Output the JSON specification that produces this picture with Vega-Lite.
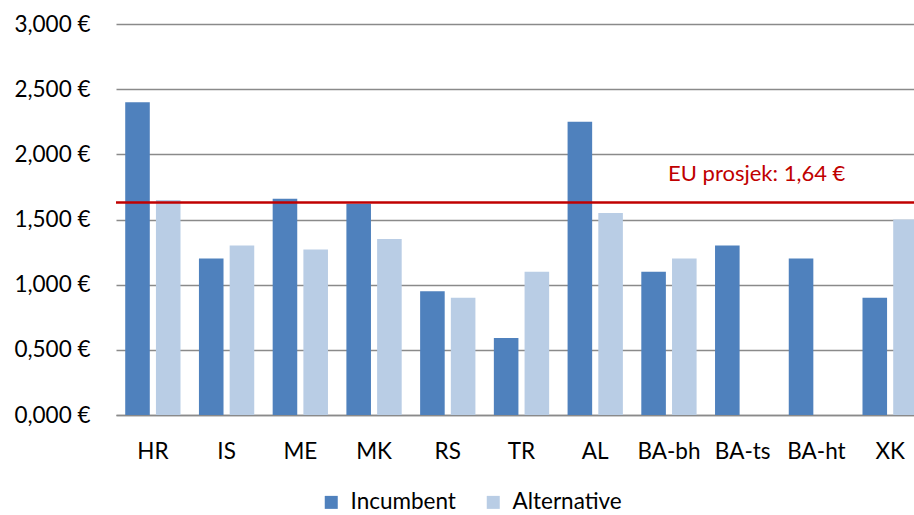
{
  "$schema": "https://vega.github.io/schema/vega-lite/v6.json",
  "width": 798,
  "height": 391,
  "autosize": {"type": "none"},
  "padding": {"left": 116, "top": 24, "right": 0, "bottom": 100},
  "background": "white",
  "config": {"view": {"stroke": null}, "font": "Lato"},
  "datasets": {
    "prices": [
      {"country": "HR", "type": "Incumbent", "price": 2.40},
      {"country": "HR", "type": "Alternative", "price": 1.65},
      {"country": "IS", "type": "Incumbent", "price": 1.20},
      {"country": "IS", "type": "Alternative", "price": 1.30},
      {"country": "ME", "type": "Incumbent", "price": 1.66},
      {"country": "ME", "type": "Alternative", "price": 1.27},
      {"country": "MK", "type": "Incumbent", "price": 1.62},
      {"country": "MK", "type": "Alternative", "price": 1.35},
      {"country": "RS", "type": "Incumbent", "price": 0.95},
      {"country": "RS", "type": "Alternative", "price": 0.90},
      {"country": "TR", "type": "Incumbent", "price": 0.59},
      {"country": "TR", "type": "Alternative", "price": 1.10},
      {"country": "AL", "type": "Incumbent", "price": 2.25},
      {"country": "AL", "type": "Alternative", "price": 1.55},
      {"country": "BA-bh", "type": "Incumbent", "price": 1.10},
      {"country": "BA-bh", "type": "Alternative", "price": 1.20},
      {"country": "BA-ts", "type": "Incumbent", "price": 1.30},
      {"country": "BA-ht", "type": "Incumbent", "price": 1.20},
      {"country": "XK", "type": "Incumbent", "price": 0.90},
      {"country": "XK", "type": "Alternative", "price": 1.50}
    ],
    "eu": [
      {"country": "BA-ts", "value": 1.63, "label": "EU prosjek: 1,64 €"}
    ]
  },
  "layer": [
    {
      "data": {"name": "prices"},
      "mark": {"type": "bar", "clip": true},
      "encoding": {
        "x": {
          "field": "country",
          "type": "nominal",
          "scale": {
            "domain": ["HR", "IS", "ME", "MK", "RS", "TR", "AL", "BA-bh", "BA-ts", "BA-ht", "XK"],
            "range": [0, 811],
            "paddingInner": 0.25,
            "paddingOuter": 0.125
          },
          "axis": {
            "title": null,
            "labelAngle": 0,
            "labelFontSize": 22.5,
            "labelColor": "#000000",
            "labelPadding": 25,
            "ticks": false,
            "domain": true,
            "domainColor": "#8a8a8a",
            "domainWidth": 1.5,
            "grid": false
          }
        },
        "xOffset": {
          "field": "type",
          "type": "nominal",
          "scale": {"domain": ["Incumbent", "Alternative"], "paddingInner": 0.2}
        },
        "y": {
          "field": "price",
          "type": "quantitative",
          "scale": {"domain": [0, 3], "nice": false},
          "axis": {
            "title": null,
            "values": [0, 0.5, 1, 1.5, 2, 2.5, 3],
            "labelExpr": "replace(format(datum.value, '.3f'), '.', ',') + ' €'",
            "labelFontSize": 22.5,
            "labelColor": "#000000",
            "labelPadding": 26,
            "ticks": false,
            "domain": false,
            "grid": true,
            "gridColor": "#8a8a8a",
            "gridWidth": 1.5
          }
        },
        "color": {
          "field": "type",
          "type": "nominal",
          "scale": {"domain": ["Incumbent", "Alternative"], "range": ["#4F81BD", "#B9CDE5"]},
          "legend": {
            "title": null,
            "orient": "none",
            "direction": "horizontal",
            "legendX": 204,
            "legendY": 467,
            "symbolType": "square",
            "symbolSize": 169,
            "symbolStrokeWidth": 0,
            "labelFontSize": 22.5,
            "labelColor": "#000000",
            "columnPadding": 26,
            "labelOffset": 8
          }
        }
      }
    },
    {
      "data": {"name": "eu"},
      "mark": {"type": "rule", "color": "#C00000", "strokeWidth": 2.5},
      "encoding": {
        "y": {"field": "value", "type": "quantitative"}
      }
    },
    {
      "data": {"name": "eu"},
      "mark": {"type": "text", "color": "#C00000", "fontSize": 22, "baseline": "middle", "align": "center", "dy": -29, "dx": 14},
      "encoding": {
        "x": {"field": "country", "type": "nominal"},
        "y": {"field": "value", "type": "quantitative"},
        "text": {"field": "label"}
      }
    }
  ]
}
